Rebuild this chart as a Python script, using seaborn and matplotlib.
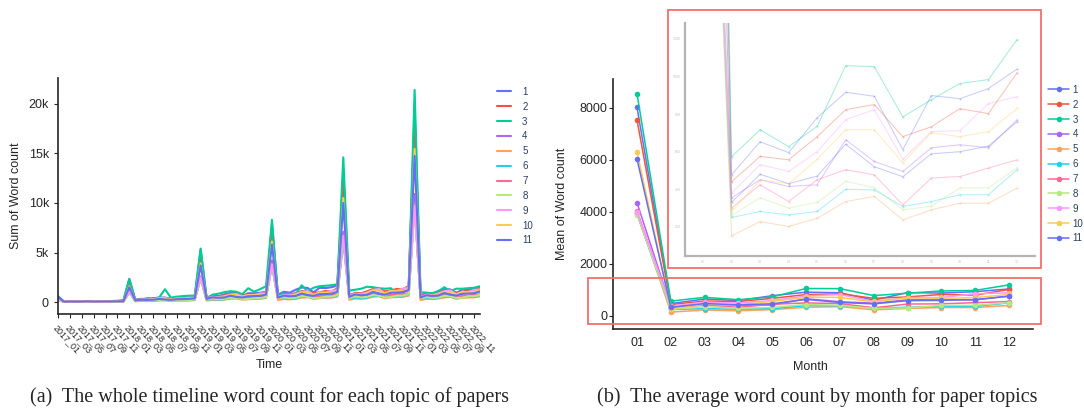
import matplotlib
matplotlib.use("Agg")
import matplotlib.pyplot as plt
import seaborn as sns
import pandas as pd
from matplotlib.patches import Rectangle

W, H = 1084, 408

topics = [str(i) for i in range(1, 12)]
colors = ["#636EFA", "#EF553B", "#00CC96", "#AB63FA", "#FFA15A", "#19D3F3",
          "#FF6692", "#B6E880", "#FF97FF", "#FECB52", "#636EFA"]
years = ["2017", "2018", "2019", "2020", "2021", "2022"]
months = ["01", "02", "03", "04", "05", "06", "07", "08", "09", "10", "11", "12"]
time_labels = [y + "_" + m for y in years for m in months]

# monthly sums per topic, 2017_01 .. 2022_12 (one row per year)
sum_t1 = [600, 60, 80, 70, 90, 110, 110, 70, 110, 110, 110, 120,
          2350, 240, 330, 300, 390, 460, 450, 310, 450, 440, 470, 520,
          5300, 480, 650, 600, 780, 920, 900, 610, 900, 880, 940, 1040,
          7800, 760, 1040, 950, 1250, 1470, 1430, 980, 1440, 1410, 1500, 1660,
          12500, 640, 880, 800, 1050, 1240, 1210, 820, 1210, 1190, 1260, 1400,
          19500, 680, 930, 850, 1120, 1310, 1280, 870, 1290, 1260, 1340, 1490]
sum_t2 = [400, 50, 70, 70, 80, 100, 100, 80, 90, 100, 100, 120,
          1900, 220, 290, 280, 340, 410, 430, 340, 370, 410, 400, 510,
          4300, 440, 580, 560, 680, 820, 850, 680, 730, 830, 800, 1020,
          7400, 590, 780, 750, 920, 1110, 1150, 920, 990, 1120, 1080, 1380,
          13000, 700, 920, 890, 1090, 1320, 1360, 1090, 1170, 1330, 1280, 1630,
          18200, 640, 820, 790, 970, 1180, 1210, 970, 1050, 1180, 1160, 1460]
sum_t3 = [500, 30, 40, 60, 70, 80, 90, 100, 100, 110, 130, 200,
          2300, 200, 250, 400, 350, 450, 1300, 450, 550, 600, 650, 650,
          5400, 350, 750, 850, 1000, 1100, 1050, 800, 1400, 1050, 1300, 1600,
          8300, 650, 900, 700, 800, 1700, 1100, 1450, 1600, 1650, 1700, 1800,
          14600, 1150, 1250, 1350, 1550, 1500, 1400, 1350, 1400, 850, 1000, 1300,
          21400, 1000, 950, 900, 1100, 1500, 1100, 1350, 1350, 1400, 1450, 1600]
sum_t4 = [300, 40, 50, 50, 50, 80, 70, 60, 70, 80, 70, 90,
          1100, 180, 230, 210, 210, 330, 270, 250, 310, 320, 310, 390,
          2600, 360, 450, 420, 420, 660, 550, 500, 620, 640, 620, 770,
          4200, 480, 610, 560, 570, 900, 740, 670, 840, 860, 840, 1040,
          7100, 570, 720, 660, 680, 1060, 880, 790, 990, 1020, 990, 1230,
          10900, 500, 650, 590, 610, 950, 780, 700, 890, 910, 900, 1100]
sum_t5 = [200, 20, 30, 20, 30, 40, 40, 30, 30, 40, 40, 50,
          1000, 80, 110, 100, 120, 170, 180, 120, 150, 160, 160, 200,
          2400, 150, 230, 200, 250, 340, 360, 240, 290, 330, 330, 410,
          3800, 210, 310, 270, 330, 450, 490, 320, 390, 440, 440, 550,
          6500, 240, 360, 320, 390, 540, 580, 380, 470, 520, 520, 650,
          9800, 210, 330, 300, 360, 470, 520, 330, 420, 470, 470, 580]
sum_t6 = [250, 30, 30, 30, 30, 50, 50, 40, 40, 40, 40, 60,
          950, 130, 140, 130, 140, 200, 200, 150, 170, 190, 190, 250,
          2400, 250, 280, 260, 280, 400, 400, 310, 340, 370, 370, 500,
          3700, 340, 380, 360, 380, 540, 540, 420, 450, 500, 500, 680,
          6200, 400, 450, 420, 450, 640, 640, 490, 540, 590, 590, 810,
          10000, 350, 410, 380, 410, 570, 550, 440, 470, 540, 540, 720]
sum_t7 = [250, 40, 50, 40, 50, 60, 60, 40, 60, 60, 60, 70,
          1050, 150, 210, 170, 230, 250, 240, 160, 230, 230, 260, 280,
          2500, 300, 420, 340, 450, 500, 480, 320, 460, 470, 510, 560,
          3900, 410, 570, 450, 610, 680, 640, 430, 620, 630, 690, 750,
          6700, 480, 680, 540, 720, 810, 760, 510, 740, 750, 820, 890,
          9900, 420, 610, 470, 650, 720, 680, 450, 650, 670, 740, 790]
sum_t8 = [200, 30, 40, 40, 40, 50, 50, 30, 40, 50, 50, 60,
          1000, 130, 180, 150, 170, 220, 200, 150, 160, 200, 200, 260,
          2400, 260, 350, 300, 330, 440, 410, 290, 310, 410, 410, 520,
          3700, 350, 480, 400, 450, 600, 550, 390, 420, 550, 550, 700,
          6600, 420, 570, 480, 530, 710, 650, 470, 500, 650, 650, 820,
          9500, 370, 510, 430, 460, 630, 590, 420, 430, 590, 590, 730]
sum_t9 = [250, 50, 60, 60, 70, 90, 100, 70, 80, 90, 100, 110,
          1000, 190, 270, 250, 300, 390, 410, 280, 350, 360, 430, 450,
          2500, 380, 530, 500, 600, 770, 820, 560, 710, 710, 860, 890,
          3800, 510, 720, 670, 810, 1040, 1110, 760, 950, 960, 1150, 1200,
          6700, 610, 850, 790, 960, 1230, 1320, 900, 1130, 1140, 1370, 1430,
          9750, 540, 760, 700, 860, 1110, 1180, 790, 1020, 1010, 1230, 1280]
sum_t10 = [350, 30, 50, 50, 70, 90, 90, 60, 80, 80, 80, 100,
           1600, 140, 220, 210, 280, 360, 360, 270, 350, 340, 350, 410,
           3900, 280, 450, 430, 560, 720, 720, 540, 700, 680, 710, 830,
           6100, 380, 610, 580, 760, 970, 970, 730, 950, 920, 950, 1120,
           10500, 450, 720, 690, 900, 1150, 1150, 870, 1120, 1090, 1130, 1330,
           15450, 400, 650, 620, 790, 1010, 1010, 780, 1010, 970, 1020, 1190]
sum_t11 = [500, 40, 60, 50, 60, 80, 60, 60, 70, 70, 80, 90,
           1500, 170, 240, 220, 240, 320, 260, 230, 290, 300, 320, 380,
           3700, 330, 480, 430, 470, 640, 520, 470, 590, 600, 630, 760,
           5800, 450, 650, 580, 630, 860, 700, 630, 800, 810, 850, 1030,
           10000, 530, 770, 690, 750, 1020, 830, 750, 940, 960, 1010, 1220,
           14750, 470, 690, 610, 670, 920, 750, 660, 840, 860, 890, 1080]

# mean word count by calendar month per topic
mean_t1 = [8020, 477, 653, 595, 781, 916, 895, 611, 899, 882, 936, 1040]
mean_t2 = [7540, 440, 575, 557, 680, 824, 851, 680, 733, 829, 803, 1020]
mean_t3 = [8550, 573, 717, 627, 735, 1058, 1053, 785, 877, 963, 984, 1197]
mean_t4 = [4360, 355, 451, 415, 424, 664, 548, 495, 621, 637, 621, 770]
mean_t5 = [3950, 152, 228, 202, 246, 335, 362, 237, 291, 326, 326, 406]
mean_t6 = [3920, 250, 282, 264, 282, 400, 397, 308, 335, 371, 371, 504]
mean_t7 = [4050, 300, 424, 335, 451, 504, 477, 317, 460, 468, 513, 557]
mean_t8 = [3900, 260, 355, 300, 330, 442, 408, 291, 310, 408, 408, 515]
mean_t9 = [4000, 380, 531, 495, 600, 771, 824, 560, 707, 712, 856, 893]
mean_t10 = [6320, 280, 450, 430, 560, 717, 717, 541, 701, 680, 707, 830]
mean_t11 = [6040, 330, 480, 430, 470, 640, 520, 467, 589, 600, 630, 760]

sums = [sum_t1, sum_t2, sum_t3, sum_t4, sum_t5, sum_t6, sum_t7, sum_t8, sum_t9, sum_t10, sum_t11]
means = [mean_t1, mean_t2, mean_t3, mean_t4, mean_t5, mean_t6, mean_t7, mean_t8, mean_t9, mean_t10, mean_t11]

df_sum = pd.DataFrame([(i, t, v) for t, s in zip(topics, sums) for i, v in enumerate(s)],
                      columns=["Time", "Topic", "Sum of Word count"])
df_mean = pd.DataFrame([(i, t, v) for t, s in zip(topics, means) for i, v in enumerate(s)],
                       columns=["Month", "Topic", "Mean of Word count"])
pal = dict(zip(topics, colors))

sns.set_theme(style="ticks")
plt.rcParams["font.family"] = ["Liberation Sans", "DejaVu Sans"]
plt.rcParams["axes.linewidth"] = 1.2

fig = plt.figure(figsize=(W / 100, H / 100), dpi=100)

# ---- (a) whole timeline ----
ax1 = fig.add_axes([58 / W, 1 - 314 / H, 422 / W, 236 / H])
sns.lineplot(data=df_sum, x="Time", y="Sum of Word count", hue="Topic", hue_order=topics,
             palette=pal, linewidth=1.5, errorbar=None, ax=ax1)
ax1.set_xlim(0, 71)
ax1.set_ylim(-1200, 22600)
ax1.set_yticks([0, 5000, 10000, 15000, 20000])
ax1.set_yticklabels(["0", "5k", "10k", "15k", "20k"], fontsize=9)
ax1.set_xticks(range(0, 72, 2))
ax1.set_xticklabels(time_labels[::2], rotation=-48, ha="left", va="top",
                    rotation_mode="anchor", fontsize=6.5)
ax1.tick_params(axis="both", length=3, width=0.8)
sns.despine(ax=ax1)
ax1.set_xlabel("Time", fontsize=9)
ax1.set_ylabel("Sum of Word count", fontsize=9)
ax1.xaxis.set_label_coords(0.5, -0.19)
ax1.yaxis.set_label_coords(-0.085, 0.5)
h, l = ax1.get_legend_handles_labels()
ax1.legend(h, l, loc="upper left", bbox_to_anchor=(492 / W, 1 - 82 / H),
           bbox_transform=fig.transFigure, frameon=False, fontsize=7,
           handlelength=1.5, handletextpad=1.1, labelspacing=0.5, borderpad=0,
           labelcolor="#2a3f5f")

# ---- (b) mean by month ----
ax2 = fig.add_axes([613 / W, 1 - 329 / H, 420 / W, 250 / H])
sns.lineplot(data=df_mean, x="Month", y="Mean of Word count", hue="Topic", hue_order=topics,
             palette=pal, linewidth=1.1, marker="o", markersize=4, markeredgewidth=0,
             errorbar=None, ax=ax2)
ax2.set_xlim(-0.71, 11.71)
ax2.set_ylim(-500, 9115)
ax2.set_xticks(range(12))
ax2.set_xticklabels(months, fontsize=9)
ax2.set_yticks([0, 2000, 4000, 6000, 8000])
ax2.set_yticklabels(["0", "2000", "4000", "6000", "8000"], fontsize=9)
ax2.tick_params(axis="x", length=0, pad=6)
ax2.tick_params(axis="y", length=3, width=0.8, pad=1)
sns.despine(ax=ax2)
ax2.set_xlabel("Month", fontsize=9)
ax2.set_ylabel("Mean of Word count", fontsize=9)
ax2.xaxis.set_label_coords(0.47, -0.13)
ax2.yaxis.set_label_coords(-0.107, 0.5)
h, l = ax2.get_legend_handles_labels()
ax2.legend(h, l, loc="upper left", bbox_to_anchor=(1043 / W, 1 - 80 / H),
           bbox_transform=fig.transFigure, frameon=False, fontsize=7,
           handlelength=2.2, handletextpad=0.35, labelspacing=0.5, borderpad=0,
           labelcolor="#2a3f5f")

# zoomed view of months 02-12
ax3 = fig.add_axes([685 / W, 1 - 256 / H, 350 / W, 233 / H])
ax3.set_facecolor("white")
sns.lineplot(data=df_mean, x="Month", y="Mean of Word count", hue="Topic", hue_order=topics,
             palette=pal, linewidth=0.75, alpha=0.35, marker="o", markersize=1.5,
             markeredgewidth=0, errorbar=None, legend=False, ax=ax3)
ax3.set_xlim(-0.63, 11.63)
ax3.set_ylim(45, 1285)
ax3.set_yticks([200, 400, 600, 800, 1000, 1200])
ax3.set_xticks(range(12))
ax3.set_xticklabels(months)
ax3.tick_params(labelsize=2.5, labelcolor="#c4c4c4", length=0, pad=3)
ax3.set_xlabel("")
ax3.set_ylabel("")
sns.despine(ax=ax3)
for s in ["left", "bottom"]:
    ax3.spines[s].set_color("#b4b4b4")
    ax3.spines[s].set_linewidth(1.6)

# red highlight boxes
fig.add_artist(Rectangle((668 / W, 1 - 268 / H), 373 / W, 258 / H, transform=fig.transFigure,
                         fill=False, edgecolor="#F66D6D", linewidth=1.3))
fig.add_artist(Rectangle((588 / W, 1 - 324 / H), 453 / W, 46 / H, transform=fig.transFigure,
                         fill=False, edgecolor="#F66D6D", linewidth=1.3))

# captions
fig.text(269 / W, 1 - 402 / H, "(a)  The whole timeline word count for each topic of papers",
         ha="center", va="baseline", fontsize=14.5, family="Liberation Serif")
fig.text(817 / W, 1 - 402 / H, "(b)  The average word count by month for paper topics",
         ha="center", va="baseline", fontsize=14.5, family="Liberation Serif")

fig.savefig("out.png", dpi=100)
